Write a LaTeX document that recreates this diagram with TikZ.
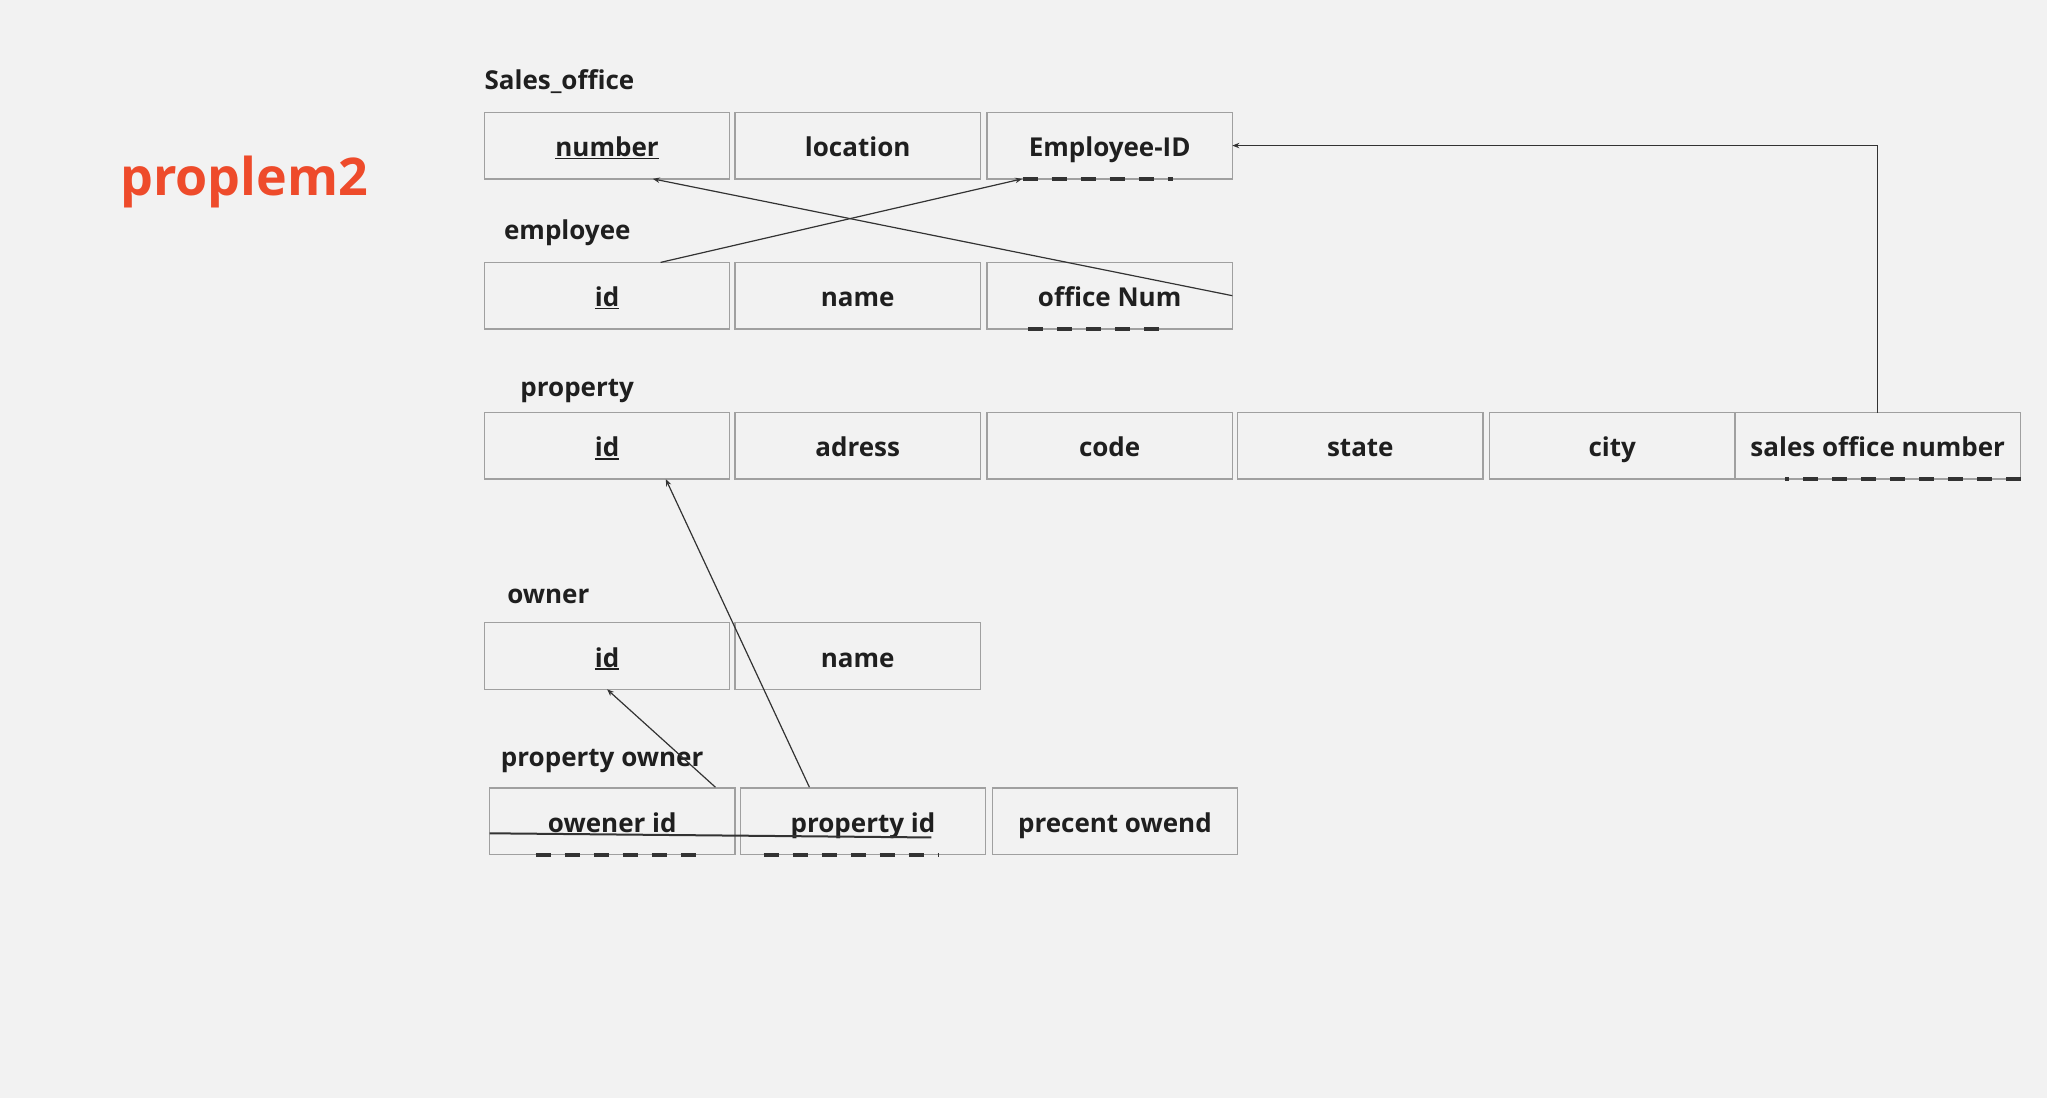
\documentclass[tikz,border=0pt]{standalone}
\usepackage{fontspec}
\setmainfont{Open Sans}
\usetikzlibrary{arrows.meta,calc}
\definecolor{bg}{HTML}{F2F2F2}
\definecolor{ink}{HTML}{1F1F1F}
\definecolor{edgegray}{HTML}{A0A0A0}
\definecolor{wire}{HTML}{333333}
\definecolor{titlered}{HTML}{EE4B2B}
\newcommand\keyul[1]{\setbox0\hbox{#1}\rlap{\rule[-2.8pt]{\wd0}{1.8pt}}\box0}
\tikzset{
  cell/.style={draw=edgegray, line width=1.3pt, minimum width=245.4pt, minimum height=66.6pt,
    inner sep=0pt, outer sep=0pt, text=ink, font=\fontsize{26}{30}\selectfont\bfseries,
    text height=23pt, text depth=1pt},
  widecell/.style={cell, minimum width=285.5pt},
  tablelabel/.style={anchor=base west, inner sep=0pt, text=ink, font=\fontsize{26}{30}\selectfont\bfseries},
  conn/.style={draw=wire, line width=1.2pt},
  arr/.style={conn, -{Stealth[length=7pt,width=5.5pt]}},
  fkdash/.style={draw=wire, line width=3.5pt, dash pattern=on 15pt off 14pt}
}
\begin{document}
\begin{tikzpicture}[x=1.3055pt,y=-1.3055pt]
\fill[bg] (0,0) rectangle (1568,841);
\useasboundingbox (0,0) rectangle (1568,841);

% title
\node[anchor=base west, inner sep=0pt, text=titlered, font=\fontsize{52}{60}\selectfont\bfseries] (title) at (92,149.9) {proplem2};

% Sales_office
\node[tablelabel] (lso) at (371,68.4) {Sales\_office};
\node[cell] (snum) at (465,111.5) {\keyul{number}};
\node[cell] (sloc) at (657,111.5) {location};
\node[cell] (seid) at (850,111.5) {Employee-ID};

% employee
\node[tablelabel] (lemp) at (386,183.3) {employee};
\node[cell] (eid) at (465,226.5) {\keyul{id}};
\node[cell] (ename) at (657,226.5) {name};
\node[cell] (eoff) at (850,226.5) {office Num};

% property
\node[tablelabel] (lprop) at (398.5,303.9) {property};
\node[cell] (pid) at (465,341.5) {\keyul{id}};
\node[cell] (padr) at (657,341.5) {adress};
\node[cell] (pcode) at (850,341.5) {code};
\node[cell] (pstate) at (1042,341.5) {state};
\node[cell] (pcity) at (1235,341.5) {city};
\node[widecell] (pson) at (1438.35,341.5) {sales office number};

% owner
\node[tablelabel] (lown) at (388.4,462.1) {owner};
\node[cell] (oid) at (465,502.5) {\keyul{id}};
\node[cell] (oname) at (657,502.5) {name};

% property owner
\node[tablelabel] (lpo) at (383.6,586.8) {property owner};
\node[cell] (pooid) at (469,629) {owener id};
\node[cell] (popid) at (661,629) {property id};
\node[cell] (popct) at (854,629) {precent owend};

% foreign key dashes
\draw[fkdash] (783.4,137) -- (898.3,137);
\draw[fkdash] (787.4,252) -- (887.5,252);
\draw[fkdash] (1547.7,367) -- (1367,367);
\draw[fkdash] (410.2,655) -- (533,655);
\draw[fkdash] (584.9,655) -- (719,655);

% connector end points
\coordinate (c1a) at (506,201);
\coordinate (c1b) at (783,137);
\coordinate (c2b) at (500,137);
\coordinate (c4a) at (620,603);
\coordinate (c4b) at (510,367);
\coordinate (c5a) at (548,603);
\coordinate (s1) at (375,638.3);
\coordinate (s2) at (713.5,641.5);

% connectors
\draw[arr] (c1a) -- (c1b);
\draw[arr] (eoff.east) -- (c2b);
\draw[arr] (pson.north) |- (seid.east);
\draw[arr] (c4a) -- (c4b);
\draw[arr] (c5a) -- (oid.south);
\draw[draw=wire, line width=2pt] (s1) -- (s2);
\end{tikzpicture}
\end{document}
